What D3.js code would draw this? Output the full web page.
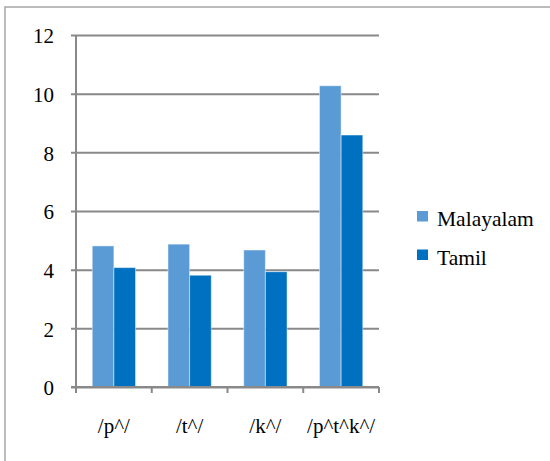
<!DOCTYPE html>
<html>
<head>
<meta charset="utf-8">
<script src="https://cdn.jsdelivr.net/npm/d3@7"></script>
<style>
  html, body { margin: 0; padding: 0; background: #fff; }
  svg { display: block; }
</style>
</head>
<body>
<svg id="chart" width="550" height="461"></svg>
<script>
// Categories and series values
const categories = ["/p^/", "/t^/", "/k^/", "/p^t^k^/"];
const seriesNames = ["Malayalam", "Tamil"];
const malayalam = [4.81, 4.87, 4.67, 10.27];
const tamil = [4.07, 3.81, 3.93, 8.59];
const yTicks = [0, 2, 4, 6, 8, 10, 12];
const seriesColors = ["#5B9BD5", "#0070C0"];

const FONT = "Liberation Serif";
const svg = d3.select("#chart");

// Plot area
const plotLeft = 76, plotRight = 379, plotTop = 35, plotBottom = 387;

// Outer chart frame (continues past the right and bottom edges)
svg.append("rect")
  .attr("x", 5).attr("y", 7)
  .attr("width", 600).attr("height", 500)
  .attr("fill", "none")
  .attr("stroke", "#a6a6a6")
  .attr("stroke-width", 1.5);

const y = d3.scaleLinear().domain([0, 12]).range([plotBottom, plotTop]);
const x0 = d3.scaleBand().domain(categories).range([plotLeft, plotRight]).paddingInner(0).paddingOuter(0);
const x1 = d3.scaleBand().domain(seriesNames).range([0, x0.bandwidth()]).paddingInner(0).paddingOuter(0.75);

// Horizontal gridlines with left ticks and labels
const gridLen = plotRight - plotLeft + 5;
const yAxis = d3.axisRight(y)
  .tickValues(yTicks)
  .tickSize(-gridLen)
  .tickFormat(d3.format("d"));

const gy = svg.append("g")
  .attr("transform", `translate(${plotRight},0)`)
  .call(yAxis)
  .attr("font-family", FONT)
  .attr("font-size", 21);
gy.select(".domain").remove();
gy.selectAll(".tick line").attr("stroke", "#898989").attr("stroke-width", 2);
gy.selectAll(".tick text")
  .attr("text-anchor", "end")
  .attr("x", -gridLen - 17)
  .attr("dy", "0.38em")
  .attr("fill", "#000")
  .attr("font-family", FONT)
  .attr("font-size", 21);

// Vertical axis line
svg.append("line")
  .attr("x1", plotLeft).attr("x2", plotLeft)
  .attr("y1", plotTop).attr("y2", plotBottom + 6)
  .attr("stroke", "#898989").attr("stroke-width", 2);

// Category boundary ticks under the baseline
const boundaries = categories.map(c => x0(c)).concat([plotRight]);
svg.append("g").selectAll("line")
  .data(boundaries)
  .join("line")
  .attr("x1", d => d).attr("x2", d => d)
  .attr("y1", plotBottom).attr("y2", plotBottom + 6)
  .attr("stroke", "#898989").attr("stroke-width", 2);

// Bars
const rows = categories.map((c, i) => ({ cat: c, values: [malayalam[i], tamil[i]] }));
const groups = svg.append("g").selectAll("g")
  .data(rows)
  .join("g")
  .attr("transform", d => `translate(${x0(d.cat)},0)`);

groups.selectAll("rect")
  .data(d => d.values.map((v, j) => ({ name: seriesNames[j], value: v, color: seriesColors[j] })))
  .join("rect")
  .attr("x", d => x1(d.name))
  .attr("y", d => y(d.value))
  .attr("width", x1.bandwidth())
  .attr("height", d => y(0) - y(d.value))
  .attr("fill", d => d.color)
  .attr("stroke", "rgba(255,255,255,0.45)")
  .attr("stroke-width", 1);

// Baseline drawn over the bars
svg.append("line")
  .attr("x1", plotLeft - 5).attr("x2", plotRight)
  .attr("y1", plotBottom).attr("y2", plotBottom)
  .attr("stroke", "#898989").attr("stroke-width", 2);

// Category labels
svg.append("g").selectAll("text")
  .data(categories)
  .join("text")
  .attr("x", d => x0(d) + x0.bandwidth() / 2)
  .attr("y", 433)
  .attr("text-anchor", "middle")
  .attr("font-family", FONT)
  .attr("font-size", 21)
  .attr("fill", "#000")
  .text(d => d);

// Legend
const legend = svg.append("g").selectAll("g")
  .data(seriesNames)
  .join("g")
  .attr("transform", (d, i) => `translate(417,${211 + i * 38.5})`);
legend.append("rect")
  .attr("width", 11).attr("height", 10.5)
  .attr("fill", (d, i) => seriesColors[i]);
legend.append("text")
  .attr("x", 20).attr("y", 15)
  .attr("font-family", FONT)
  .attr("font-size", 21.5)
  .attr("fill", "#000")
  .text(d => d);
</script>
</body>
</html>
